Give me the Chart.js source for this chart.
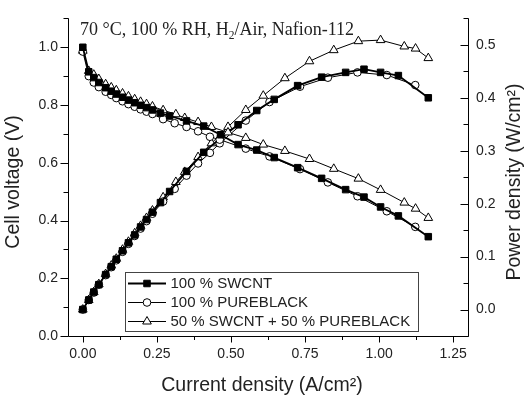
<!DOCTYPE html>
<html>
<head>
<meta charset="utf-8">
<script src="https://cdn.jsdelivr.net/npm/chart.js@4.4.0/dist/chart.umd.min.js"></script>
<style>
  html, body { margin: 0; padding: 0; background: #fff; }
</style>
</head>
<body>
<canvas id="fc" width="526" height="397"></canvas>
<script>
// current density (A/cm2), cell voltage (V), power density (W/cm2)
const swcntI = [0, 0.020, 0.037, 0.054, 0.077, 0.096, 0.113, 0.134, 0.154, 0.175, 0.195, 0.215, 0.235, 0.262, 0.293, 0.350, 0.408, 0.465, 0.524, 0.587, 0.646, 0.725, 0.806, 0.887, 0.949, 1.005, 1.065, 1.166];
const swcntV = [1.000, 0.915, 0.895, 0.878, 0.860, 0.848, 0.838, 0.827, 0.817, 0.808, 0.799, 0.791, 0.783, 0.772, 0.762, 0.745, 0.727, 0.697, 0.663, 0.644, 0.618, 0.583, 0.546, 0.507, 0.481, 0.447, 0.416, 0.344];
const swcntP = [0.000, 0.018, 0.033, 0.047, 0.066, 0.081, 0.095, 0.111, 0.126, 0.141, 0.156, 0.170, 0.184, 0.202, 0.223, 0.261, 0.297, 0.324, 0.349, 0.376, 0.397, 0.423, 0.439, 0.448, 0.454, 0.448, 0.442, 0.400];

const pureI = [0, 0.020, 0.037, 0.054, 0.077, 0.096, 0.113, 0.134, 0.154, 0.175, 0.195, 0.215, 0.235, 0.271, 0.310, 0.350, 0.389, 0.429, 0.462, 0.550, 0.630, 0.733, 0.827, 0.927, 1.026, 1.122];
const pureV = [0.985, 0.900, 0.878, 0.862, 0.846, 0.835, 0.824, 0.813, 0.803, 0.794, 0.785, 0.777, 0.769, 0.751, 0.737, 0.724, 0.709, 0.690, 0.680, 0.649, 0.622, 0.578, 0.532, 0.484, 0.432, 0.378];
const pureP = [0.000, 0.018, 0.032, 0.047, 0.065, 0.080, 0.093, 0.109, 0.124, 0.139, 0.153, 0.167, 0.181, 0.204, 0.228, 0.253, 0.276, 0.296, 0.314, 0.357, 0.392, 0.421, 0.438, 0.448, 0.443, 0.424];

const mixI = [0, 0.020, 0.037, 0.054, 0.077, 0.096, 0.113, 0.134, 0.154, 0.175, 0.195, 0.215, 0.235, 0.271, 0.314, 0.344, 0.389, 0.434, 0.490, 0.550, 0.609, 0.682, 0.765, 0.847, 0.930, 1.005, 1.085, 1.123, 1.166];
const mixV = [0.988, 0.918, 0.905, 0.890, 0.872, 0.861, 0.851, 0.840, 0.830, 0.820, 0.811, 0.803, 0.795, 0.782, 0.768, 0.755, 0.741, 0.724, 0.705, 0.686, 0.663, 0.641, 0.613, 0.579, 0.545, 0.506, 0.462, 0.441, 0.409];
const mixP = [0.000, 0.018, 0.033, 0.048, 0.067, 0.083, 0.096, 0.113, 0.128, 0.144, 0.158, 0.173, 0.187, 0.212, 0.241, 0.260, 0.288, 0.314, 0.345, 0.377, 0.404, 0.437, 0.469, 0.490, 0.507, 0.509, 0.497, 0.493, 0.475];

const seriesNames = ['100 % SWCNT', '100 % PUREBLACK', '50 % SWCNT + 50 % PUREBLACK'];
const xTicks = [0, 0.25, 0.5, 0.75, 1.0, 1.25];
const xMinor = [0.125, 0.375, 0.625, 0.875, 1.125];
const vTicks = [0, 0.2, 0.4, 0.6, 0.8, 1.0];
const vMinor = [0.1, 0.3, 0.5, 0.7, 0.9, 1.1];
const pTicks = [0, 0.1, 0.2, 0.3, 0.4, 0.5];
const pMinor = [-0.05, 0.05, 0.15, 0.25, 0.35, 0.45, 0.55];

const SANS = 'Arial, "Liberation Sans", sans-serif';
const SERIF = '"Liberation Serif", "Times New Roman", serif';
const pts = (xs, ys) => xs.map((x, i) => ({x: x, y: ys[i]}));

const styles = [
  {pointStyle: 'rect', pointRadius: 4.6, fill: '#000', width: 1.8},
  {pointStyle: 'circle', pointRadius: 3.8, fill: '#fff', width: 1},
  {pointStyle: 'triangle', pointRadius: 5, fill: '#fff', width: 1}
];

function ds(data, st, axis) {
  return {
    data: data, yAxisID: axis, showLine: true, tension: 0,
    borderColor: '#000', borderWidth: st.width,
    pointStyle: st.pointStyle, pointRadius: st.pointRadius,
    pointBackgroundColor: st.fill, pointBorderColor: '#000', pointBorderWidth: 1
  };
}

const decor = {
  id: 'decor',
  afterDraw(chart) {
    const {ctx, chartArea: a} = chart;
    const sx = chart.scales.x, sy = chart.scales.y, sp = chart.scales.y2;
    ctx.save();
    ctx.strokeStyle = '#000';
    ctx.lineWidth = 1;
    ctx.beginPath();
    const L = Math.round(a.left) + 0.5, R = Math.round(a.right) + 0.5, B = Math.round(a.bottom) + 0.5;
    // axis lines
    ctx.moveTo(L, a.top); ctx.lineTo(L, B);
    ctx.lineTo(R, B); ctx.lineTo(R, a.top);
    // x ticks (outward)
    xTicks.forEach(v => { const p = Math.round(sx.getPixelForValue(v)) + 0.5; ctx.moveTo(p, B); ctx.lineTo(p, B + 6); });
    xMinor.forEach(v => { const p = Math.round(sx.getPixelForValue(v)) + 0.5; ctx.moveTo(p, B); ctx.lineTo(p, B + 3.5); });
    // left ticks (outward)
    vTicks.forEach(v => { const p = Math.round(sy.getPixelForValue(v)) + 0.5; ctx.moveTo(L, p); ctx.lineTo(L - 8, p); });
    vMinor.forEach(v => { const p = Math.round(sy.getPixelForValue(v)) + 0.5; ctx.moveTo(L, p); ctx.lineTo(L - 5, p); });
    // right ticks (inward)
    pTicks.forEach(v => { const p = Math.round(sp.getPixelForValue(v)) + 0.5; ctx.moveTo(R, p); ctx.lineTo(R - 8, p); });
    pMinor.forEach(v => { const p = Math.round(sp.getPixelForValue(v)) + 0.5; ctx.moveTo(R, p); ctx.lineTo(R - 5, p); });
    ctx.stroke();

    // axis titles
    ctx.fillStyle = '#222';
    ctx.font = '19.5px ' + SANS;
    ctx.textAlign = 'center';
    ctx.textBaseline = 'middle';
    ctx.fillText('Current density (A/cm\u00B2)', 262, 386);
    ctx.save();
    ctx.translate(14, 182); ctx.rotate(-Math.PI / 2);
    ctx.fillText('Cell voltage (V)', 0, 0);
    ctx.restore();
    ctx.save();
    ctx.translate(515, 182); ctx.rotate(-Math.PI / 2);
    ctx.fillText('Power density (W/cm\u00B2)', 0, 0);
    ctx.restore();

    // condition note
    ctx.textAlign = 'left';
    ctx.textBaseline = 'alphabetic';
    ctx.font = '18px ' + SERIF;
    let tx = 80;
    const ty = 35;
    const part1 = '70 \u00B0C, 100 % RH, H';
    ctx.fillText(part1, tx, ty);
    tx += ctx.measureText(part1).width;
    ctx.font = '11.5px ' + SERIF;
    ctx.fillText('2', tx, ty + 4);
    tx += ctx.measureText('2').width;
    ctx.font = '18px ' + SERIF;
    ctx.fillText('/Air, Nafion-112', tx, ty);

    // legend
    ctx.strokeStyle = '#444';
    ctx.strokeRect(125.5, 272.5, 293, 59);
    const rows = [283.5, 302.5, 321.5];
    ctx.font = '15px ' + SANS;
    ctx.textBaseline = 'middle';
    rows.forEach((ry, i) => {
      const st = styles[i];
      ctx.strokeStyle = '#000';
      ctx.lineWidth = st.width;
      ctx.beginPath(); ctx.moveTo(128, ry); ctx.lineTo(166, ry); ctx.stroke();
      ctx.lineWidth = 1;
      ctx.fillStyle = st.fill;
      Chart.helpers.drawPoint(ctx, {pointStyle: st.pointStyle, radius: st.pointRadius, rotation: 0, borderWidth: 1}, 147, ry);
      ctx.fillStyle = '#222';
      ctx.fillText(seriesNames[i], 170.5, ry);
    });
    ctx.restore();
  }
};

const tickFont = {family: SANS, size: 14};

new Chart(document.getElementById('fc'), {
  type: 'scatter',
  data: {
    datasets: [
      ds(pts(swcntI, swcntV), styles[0], 'y'),
      ds(pts(pureI, pureV), styles[1], 'y'),
      ds(pts(mixI, mixV), styles[2], 'y'),
      ds(pts(swcntI, swcntP), styles[0], 'y2'),
      ds(pts(pureI, pureP), styles[1], 'y2'),
      ds(pts(mixI, mixP), styles[2], 'y2')
    ]
  },
  options: {
    responsive: false,
    animation: false,
    layout: {padding: {top: 13, left: 0, right: 0, bottom: 0}},
    plugins: {legend: {display: false}, tooltip: {enabled: false}},
    scales: {
      x: {
        type: 'linear', min: -0.05, max: 1.3,
        afterBuildTicks: s => { s.ticks = xTicks.map(v => ({value: v})); },
        afterFit: s => { s.height = 61; },
        grid: {display: false, drawTicks: false}, border: {display: false},
        ticks: {padding: 10, color: '#222', font: tickFont, maxRotation: 0, autoSkip: false, callback: v => v.toFixed(2)}
      },
      y: {
        position: 'left', min: 0, max: 1.1,
        afterBuildTicks: s => { s.ticks = vTicks.map(v => ({value: v})); },
        afterFit: s => { s.width = 68; },
        grid: {display: false, drawTicks: false}, border: {display: false},
        ticks: {padding: 10, color: '#222', font: tickFont, callback: v => v.toFixed(1)}
      },
      y2: {
        position: 'right', min: -0.05, max: 0.55,
        afterBuildTicks: s => { s.ticks = pTicks.map(v => ({value: v})); },
        afterFit: s => { s.width = 58; },
        grid: {display: false, drawTicks: false}, border: {display: false},
        ticks: {padding: 8, color: '#222', font: tickFont, callback: v => v.toFixed(1)}
      }
    }
  },
  plugins: [decor]
});
</script>
</body>
</html>
